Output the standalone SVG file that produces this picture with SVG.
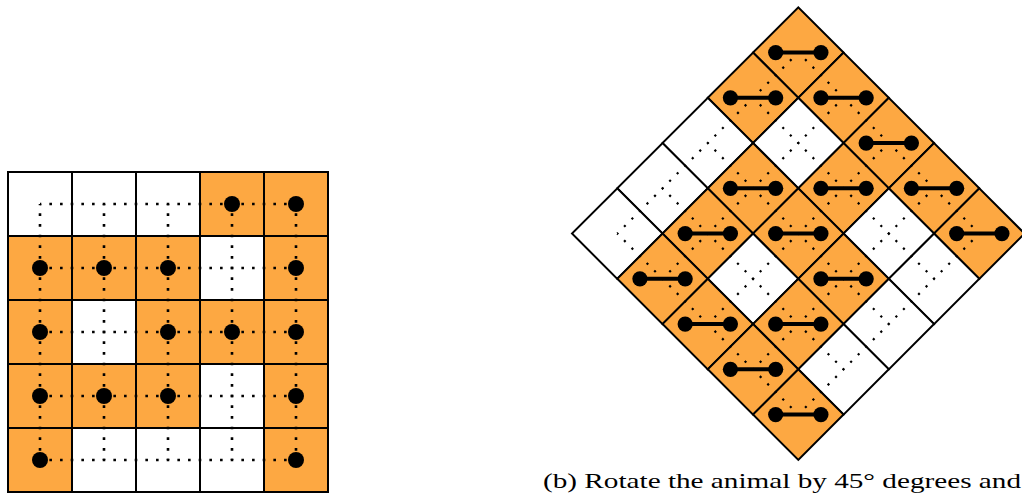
<svg xmlns="http://www.w3.org/2000/svg" xmlns:xlink="http://www.w3.org/1999/xlink" width="1022" height="493" viewBox="0 0 1022 493">
<style>
.o{fill:#FDA842;stroke:#000;stroke-width:2}
.w{fill:#fff;stroke:#000;stroke-width:2}
.dl{stroke:#000;stroke-width:2.6;stroke-dasharray:2.6 8.067;stroke-dashoffset:1.3;fill:none}
.dr{stroke:#000;stroke-width:2.2;stroke-dasharray:2.2 8.467;stroke-dashoffset:1.1;fill:none}
.dot{fill:#000}
.cap{font-family:"Liberation Serif",serif;font-size:21px;fill:#000}
</style>
<defs>
<g id="db">
<line x1="-22.63" y1="0" x2="22.63" y2="0" stroke="#000" stroke-width="4"/>
<circle cx="-22.63" cy="0" r="7.6" fill="#000"/>
<circle cx="22.63" cy="0" r="7.6" fill="#000"/>
</g>
</defs>
<!-- Left grid -->
<g id="left">
<g id="L00"><rect class="w" x="8" y="172" width="64" height="64"/></g>
<g id="L01"><rect class="w" x="72" y="172" width="64" height="64"/></g>
<g id="L02"><rect class="w" x="136" y="172" width="64" height="64"/></g>
<g id="L03"><rect class="o" x="200" y="172" width="64" height="64"/></g>
<g id="L04"><rect class="o" x="264" y="172" width="64" height="64"/></g>
<g id="L10"><rect class="o" x="8" y="236" width="64" height="64"/></g>
<g id="L11"><rect class="o" x="72" y="236" width="64" height="64"/></g>
<g id="L12"><rect class="o" x="136" y="236" width="64" height="64"/></g>
<g id="L13"><rect class="w" x="200" y="236" width="64" height="64"/></g>
<g id="L14"><rect class="o" x="264" y="236" width="64" height="64"/></g>
<g id="L20"><rect class="o" x="8" y="300" width="64" height="64"/></g>
<g id="L21"><rect class="w" x="72" y="300" width="64" height="64"/></g>
<g id="L22"><rect class="o" x="136" y="300" width="64" height="64"/></g>
<g id="L23"><rect class="o" x="200" y="300" width="64" height="64"/></g>
<g id="L24"><rect class="o" x="264" y="300" width="64" height="64"/></g>
<g id="L30"><rect class="o" x="8" y="364" width="64" height="64"/></g>
<g id="L31"><rect class="o" x="72" y="364" width="64" height="64"/></g>
<g id="L32"><rect class="o" x="136" y="364" width="64" height="64"/></g>
<g id="L33"><rect class="w" x="200" y="364" width="64" height="64"/></g>
<g id="L34"><rect class="o" x="264" y="364" width="64" height="64"/></g>
<g id="L40"><rect class="o" x="8" y="428" width="64" height="64"/></g>
<g id="L41"><rect class="w" x="72" y="428" width="64" height="64"/></g>
<g id="L42"><rect class="w" x="136" y="428" width="64" height="64"/></g>
<g id="L43"><rect class="w" x="200" y="428" width="64" height="64"/></g>
<g id="L44"><rect class="o" x="264" y="428" width="64" height="64"/></g>
</g>
<!-- Right rotated grid -->
<g id="right" transform="translate(798.3,7.3) rotate(45)">
<g id="R00"><rect class="o" x="0" y="0" width="64" height="64"/></g>
<g id="R10"><rect class="o" x="64" y="0" width="64" height="64"/></g>
<g id="R20"><rect class="o" x="128" y="0" width="64" height="64"/></g>
<g id="R30"><rect class="o" x="192" y="0" width="64" height="64"/></g>
<g id="R40"><rect class="o" x="256" y="0" width="64" height="64"/></g>
<g id="R01"><rect class="o" x="0" y="64" width="64" height="64"/></g>
<g id="R11"><rect class="w" x="64" y="64" width="64" height="64"/></g>
<g id="R21"><rect class="o" x="128" y="64" width="64" height="64"/></g>
<g id="R31"><rect class="w" x="192" y="64" width="64" height="64"/></g>
<g id="R41"><rect class="w" x="256" y="64" width="64" height="64"/></g>
<g id="R02"><rect class="w" x="0" y="128" width="64" height="64"/></g>
<g id="R12"><rect class="o" x="64" y="128" width="64" height="64"/></g>
<g id="R22"><rect class="o" x="128" y="128" width="64" height="64"/></g>
<g id="R32"><rect class="o" x="192" y="128" width="64" height="64"/></g>
<g id="R42"><rect class="w" x="256" y="128" width="64" height="64"/></g>
<g id="R03"><rect class="w" x="0" y="192" width="64" height="64"/></g>
<g id="R13"><rect class="o" x="64" y="192" width="64" height="64"/></g>
<g id="R23"><rect class="w" x="128" y="192" width="64" height="64"/></g>
<g id="R33"><rect class="o" x="192" y="192" width="64" height="64"/></g>
<g id="R43"><rect class="w" x="256" y="192" width="64" height="64"/></g>
<g id="R04"><rect class="w" x="0" y="256" width="64" height="64"/></g>
<g id="R14"><rect class="o" x="64" y="256" width="64" height="64"/></g>
<g id="R24"><rect class="o" x="128" y="256" width="64" height="64"/></g>
<g id="R34"><rect class="o" x="192" y="256" width="64" height="64"/></g>
<g id="R44"><rect class="o" x="256" y="256" width="64" height="64"/></g>
</g>
<!-- Connectors (dotted lattice) -->
<g id="connectors">
<g id="left-lattice">
<line class="dl" x1="40" y1="204" x2="296" y2="204"/>
<line class="dl" x1="40" y1="268" x2="296" y2="268"/>
<line class="dl" x1="40" y1="332" x2="296" y2="332"/>
<line class="dl" x1="40" y1="396" x2="296" y2="396"/>
<line class="dl" x1="40" y1="460" x2="296" y2="460"/>
<line class="dl" x1="40" y1="204" x2="40" y2="460"/>
<line class="dl" x1="104" y1="204" x2="104" y2="460"/>
<line class="dl" x1="168" y1="204" x2="168" y2="460"/>
<line class="dl" x1="232" y1="204" x2="232" y2="460"/>
<line class="dl" x1="296" y1="204" x2="296" y2="460"/>
</g>
<g id="right-lattice" transform="translate(798.3,7.3) rotate(45)">
<line class="dr" x1="32" y1="32" x2="288" y2="32"/>
<line class="dr" x1="32" y1="96" x2="288" y2="96"/>
<line class="dr" x1="32" y1="160" x2="288" y2="160"/>
<line class="dr" x1="32" y1="224" x2="288" y2="224"/>
<line class="dr" x1="32" y1="288" x2="288" y2="288"/>
<line class="dr" x1="32" y1="32" x2="32" y2="288"/>
<line class="dr" x1="96" y1="32" x2="96" y2="288"/>
<line class="dr" x1="160" y1="32" x2="160" y2="288"/>
<line class="dr" x1="224" y1="32" x2="224" y2="288"/>
<line class="dr" x1="288" y1="32" x2="288" y2="288"/>
</g>
</g>
<!-- Left dots -->
<g id="left-dots" class="dot">
<circle cx="232" cy="204" r="8"/><circle cx="296" cy="204" r="8"/>
<circle cx="40" cy="268" r="8"/><circle cx="104" cy="268" r="8"/><circle cx="168" cy="268" r="8"/><circle cx="296" cy="268" r="8"/>
<circle cx="40" cy="332" r="8"/><circle cx="168" cy="332" r="8"/><circle cx="232" cy="332" r="8"/><circle cx="296" cy="332" r="8"/>
<circle cx="40" cy="396" r="8"/><circle cx="104" cy="396" r="8"/><circle cx="168" cy="396" r="8"/><circle cx="296" cy="396" r="8"/>
<circle cx="40" cy="460" r="8"/><circle cx="296" cy="460" r="8"/>
</g>
<!-- Right dumbbells -->
<g id="right-dumbbells">
<use xlink:href="#db" x="798.3" y="52.55"/>
<use xlink:href="#db" x="843.55" y="97.8"/>
<use xlink:href="#db" x="753.05" y="97.8"/>
<use xlink:href="#db" x="888.8" y="143.05"/>
<use xlink:href="#db" x="934.05" y="188.3"/>
<use xlink:href="#db" x="843.55" y="188.3"/>
<use xlink:href="#db" x="753.05" y="188.3"/>
<use xlink:href="#db" x="979.3" y="233.55"/>
<use xlink:href="#db" x="798.3" y="233.55"/>
<use xlink:href="#db" x="707.8" y="233.55"/>
<use xlink:href="#db" x="843.55" y="278.8"/>
<use xlink:href="#db" x="662.55" y="278.8"/>
<use xlink:href="#db" x="798.3" y="324.05"/>
<use xlink:href="#db" x="707.8" y="324.05"/>
<use xlink:href="#db" x="753.05" y="369.3"/>
<use xlink:href="#db" x="798.3" y="414.55"/>
</g>
<text id="caption" class="cap" x="543" y="488" textLength="478" lengthAdjust="spacingAndGlyphs">(b) Rotate the animal by 45° degrees and</text>
</svg>
